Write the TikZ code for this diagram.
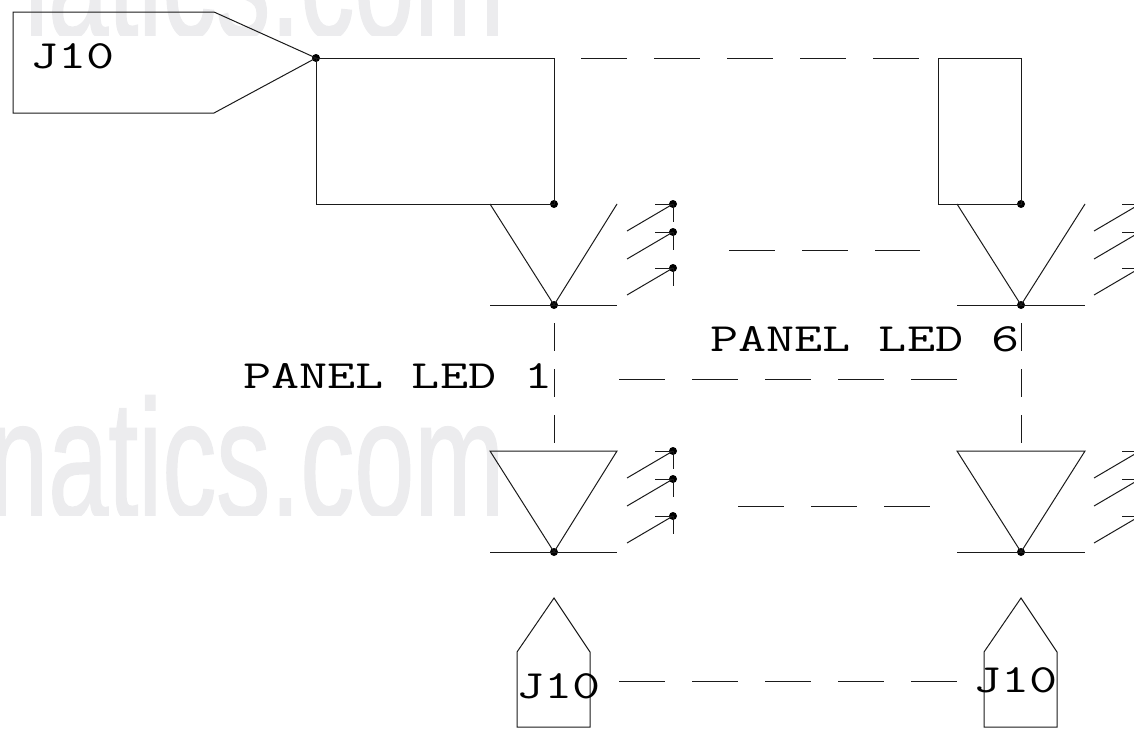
\documentclass[tikz,border=0pt]{standalone}
\usepackage{fontspec}
\newfontfamily\wmfont[FakeBold=1.2]{Liberation Sans}
\definecolor{wm}{HTML}{ECECEE}
\definecolor{ink}{HTML}{1A1A1A}
\newcommand{\labeltext}[1]{\scalebox{1.365}[1]{\fontsize{40}{40}\selectfont\ttfamily #1}}
\newcommand{\wmtext}{\scalebox{1}[1.55]{\fontsize{108}{108}\selectfont\wmfont natics.com}}
\tikzset{
  wire/.style={draw=ink,line width=1pt},
  dashwire/.style={draw=ink,line width=1pt,dash pattern=on 46pt off 27pt},
  vdashwire/.style={draw=ink,line width=1pt,dash pattern=on 28pt off 18pt},
  jdot/.style={circle,fill=black,inner sep=0pt,minimum size=8pt},
  lbl/.style={anchor=base west,inner sep=0pt,text=black},
  wmark/.style={anchor=base west,inner sep=0pt,text=wm}
}
\newcommand{\ledarrow}[3]{% name, x of dot, y of dot
  \node[jdot] (#1) at (#2,#3) {};
  \coordinate (#1t) at (#2-46,#3+27);
  \coordinate (#1h) at (#2-18,#3);
  \coordinate (#1v) at (#2,#3+18);
  \draw[wire] (#1t) -- (#1.center);
  \draw[wire] (#1h) -- (#1.center) -- (#1v);
}
\begin{document}
\begin{tikzpicture}[x=1pt,y=-1pt]
\useasboundingbox (0,0) rectangle (1134,728);
\clip (0,0) rectangle (1134,728);
% watermark, cut flat at its foot as in the reference
\begin{scope}
\clip (18,0) rectangle (600,35);
\node[wmark] (wmtop) at (-12,37) {\wmtext};
\end{scope}
\begin{scope}
\clip (0,380) rectangle (600,515);
\node[wmark] (wmlow) at (-12,517) {\wmtext};
\end{scope}
% connector J10 top
\coordinate (jA) at (13,12);
\coordinate (jB) at (214,12);
\coordinate (jC) at (214,113);
\coordinate (jD) at (13,113);
\node[jdot] (tip) at (316,58) {};
\draw[wire] (tip.center) -- (jB) -- (jA) -- (jD) -- (jC) -- cycle;
\node[lbl] (j10a) at (30,68) {\labeltext{J10}};
% wires box left
\node[jdot] (boxL) at (554,204) {};
\coordinate (boxLtr) at (554,58);
\coordinate (boxLbl) at (316,204);
\draw[wire] (tip.center) -- (boxLtr) -- (boxL.center) -- (boxLbl) -- cycle;
% box right
\node[jdot] (boxR) at (1021,204) {};
\coordinate (boxRtl) at (938,58);
\coordinate (boxRtr) at (1021,58);
\coordinate (boxRbl) at (938,204);
\draw[wire] (boxRtl) -- (boxRtr) -- (boxR.center) -- (boxRbl) -- cycle;
% dashed top
\coordinate (dt1) at (581,58);
\draw[dashwire] (dt1) -- (boxRtl);
% LED1
\node[jdot] (l1k) at (554,305) {};
\coordinate (l1a) at (490,204);
\coordinate (l1b) at (617,204);
\coordinate (l1c) at (490,305);
\coordinate (l1d) at (617,305);
\draw[wire] (l1a) -- (l1k.center) -- (l1b);
\draw[wire] (l1c) -- (l1d);
\ledarrow{a1}{673}{204}
\ledarrow{a2}{673}{232}
\ledarrow{a3}{673}{268}
% LED6
\node[jdot] (l6k) at (1021,305) {};
\coordinate (l6a) at (957,204);
\coordinate (l6b) at (1085,204);
\coordinate (l6c) at (957,305);
\coordinate (l6d) at (1085,305);
\draw[wire] (l6a) -- (l6k.center) -- (l6b);
\draw[wire] (l6c) -- (l6d);
\ledarrow{b1}{1140}{204}
\ledarrow{b2}{1140}{232}
\ledarrow{b3}{1140}{268}
% lower LED left
\node[jdot] (l2k) at (554,552) {};
\coordinate (l2a) at (490,451);
\coordinate (l2b) at (617,451);
\coordinate (l2c) at (490,552);
\coordinate (l2d) at (617,552);
\draw[wire] (l2a) -- (l2b) -- (l2k.center) -- cycle;
\draw[wire] (l2c) -- (l2d);
\ledarrow{c1}{673}{451}
\ledarrow{c2}{673}{479}
\ledarrow{c3}{673}{516}
% lower LED right
\node[jdot] (l7k) at (1021,552) {};
\coordinate (l7a) at (957,451);
\coordinate (l7b) at (1085,451);
\coordinate (l7c) at (957,552);
\coordinate (l7d) at (1085,552);
\draw[wire] (l7a) -- (l7b) -- (l7k.center) -- cycle;
\draw[wire] (l7c) -- (l7d);
\ledarrow{d1}{1140}{451}
\ledarrow{d2}{1140}{479}
\ledarrow{d3}{1140}{516}
% dashed middles
\coordinate (m1a) at (729,250); \coordinate (m1b) at (920,250);
\draw[dashwire] (m1a) -- (m1b);
\coordinate (m2a) at (619,379); \coordinate (m2b) at (958,379);
\draw[dashwire] (m2a) -- (m2b);
\coordinate (m3a) at (738,506); \coordinate (m3b) at (930,506);
\draw[dashwire] (m3a) -- (m3b);
\coordinate (m4a) at (619,681); \coordinate (m4b) at (958,681);
\draw[dashwire] (m4a) -- (m4b);
% vertical dashes
\coordinate (v1a) at (554,323); \coordinate (v1b) at (554,443);
\draw[vdashwire] (v1a) -- (v1b);
\coordinate (v2a) at (1021,323); \coordinate (v2b) at (1021,443);
\draw[vdashwire] (v2a) -- (v2b);
% bottom connectors
\coordinate (p1a) at (554,598); \coordinate (p1b) at (590,652); \coordinate (p1c) at (590,727);
\coordinate (p1d) at (517,727); \coordinate (p1e) at (517,652);
\draw[wire] (p1a) -- (p1b) -- (p1c) -- (p1d) -- (p1e) -- cycle;
\coordinate (p2a) at (1021,598); \coordinate (p2b) at (1057,652); \coordinate (p2c) at (1057,727);
\coordinate (p2d) at (984,727); \coordinate (p2e) at (984,652);
\draw[wire] (p2a) -- (p2b) -- (p2c) -- (p2d) -- (p2e) -- cycle;
% labels
\node[lbl] (j10b) at (516,698) {\labeltext{J10}};
\node[lbl] (j10c) at (973,692) {\labeltext{J10}};
\node[lbl] (led1) at (243,388) {\labeltext{PANEL LED 1}};
\node[lbl] (led6) at (710,351) {\labeltext{PANEL LED 6}};
\end{tikzpicture}
\end{document}
